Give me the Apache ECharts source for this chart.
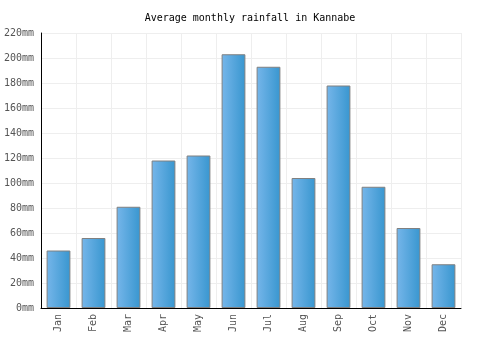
<!DOCTYPE html>
<html>
<head>
<meta charset="utf-8">
<script src="https://cdn.jsdelivr.net/npm/echarts@6/dist/echarts.min.js"></script>
<style>
  html, body { margin: 0; padding: 0; background: #fff; }
  #main { width: 500px; height: 350px; }
</style>
</head>
<body>
<div id="main"></div>
<script>
const months = ['Jan', 'Feb', 'Mar', 'Apr', 'May', 'Jun', 'Jul', 'Aug', 'Sep', 'Oct', 'Nov', 'Dec']
const rainfall = [46, 56, 81, 118, 122, 203, 193, 104, 178, 97, 64, 35]

const font = 'DejaVu Sans Mono'
const chart = echarts.init(document.getElementById('main'))

chart.setOption({
  animation: false,
  title: {
    text: 'Average monthly rainfall in Kannabe',
    left: 'center',
    top: 8,
    textStyle: { fontFamily: font, fontSize: 10, fontWeight: 'normal', color: '#000' },
  },
  grid: { left: 41, right: 39, top: 33, bottom: 42 },
  xAxis: {
    type: 'category',
    data: months,
    axisLine: { lineStyle: { color: '#000', width: 1 } },
    axisTick: { show: false },
    // vertical grid lines between months
    splitLine: { show: true, lineStyle: { color: '#eeeeee' } },
    axisLabel: {
      rotate: 90,
      interval: 0,
      margin: 6,
      fontFamily: font,
      fontSize: 10,
      color: '#555',
    },
  },
  yAxis: {
    type: 'value',
    min: 0,
    max: 220,
    interval: 20,
    axisLine: { show: true, lineStyle: { color: '#000', width: 1 } },
    axisTick: { show: false },
    splitLine: { lineStyle: { color: '#eeeeee' } },
    axisLabel: {
      formatter: '{value}mm',
      margin: 7,
      fontFamily: font,
      fontSize: 10,
      color: '#555',
    },
  },
  series: [
    {
      type: 'bar',
      data: rainfall,
      barWidth: '68%',
      itemStyle: {
        color: new echarts.graphic.LinearGradient(0, 0, 1, 0, [
          { offset: 0, color: '#76b6ea' },
          { offset: 1, color: '#3896cf' },
        ]),
        borderColor: '#808080',
        borderWidth: 1,
      },
    },
  ],
})
</script>
</body>
</html>
